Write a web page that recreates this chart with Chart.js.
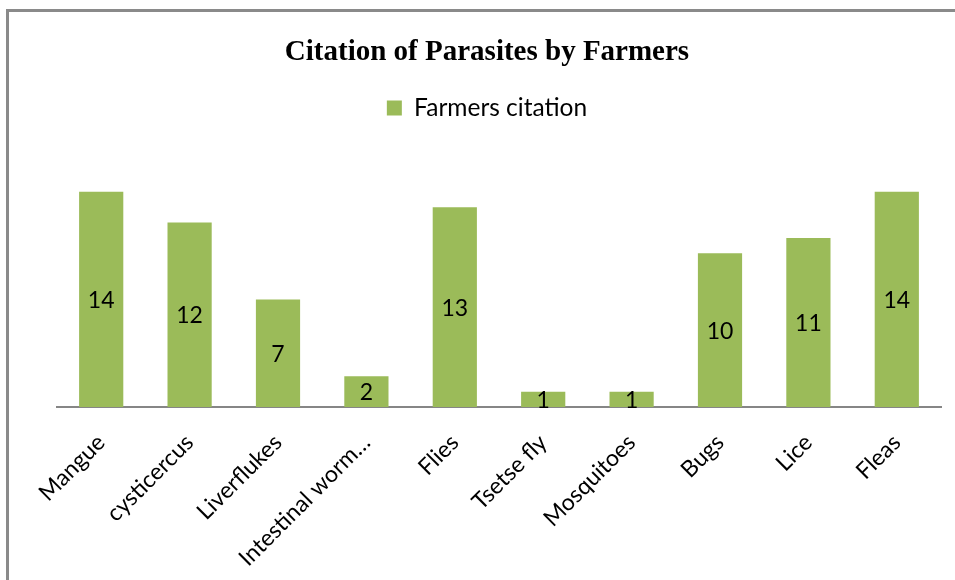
<!DOCTYPE html>
<html>
<head>
<meta charset="utf-8">
<script src="https://cdn.jsdelivr.net/npm/chart.js@4/dist/chart.umd.min.js"></script>
<style>
  html, body { margin: 0; padding: 0; background: #ffffff; }
  #wrap { width: 955px; height: 580px; position: relative; }
</style>
</head>
<body>
<div id="wrap"><canvas id="c" width="955" height="580"></canvas></div>
<script>
// Parasites cited by farmers
const categories = ['Mangue', 'cysticercus', 'Liverflukes', 'Intestinal worm\u2026', 'Flies', 'Tsetse fly', 'Mosquitoes', 'Bugs', 'Lice', 'Fleas'];
const citations = [14, 12, 7, 2, 13, 1, 1, 10, 11, 14];
const seriesName = 'Farmers citation';
const chartTitle = 'Citation of Parasites by Farmers';

const labelFont = 'Lato, "Open Sans", sans-serif';

// Value labels centred inside each bar
const barValues = {
  id: 'barValues',
  afterDatasetsDraw(chart) {
    const ctx = chart.ctx;
    const meta = chart.getDatasetMeta(0);
    ctx.save();
    ctx.font = '23px ' + labelFont;
    ctx.fillStyle = '#000000';
    ctx.textAlign = 'center';
    ctx.textBaseline = 'middle';
    meta.data.forEach((bar, i) => {
      const y = (bar.y + bar.base) / 2;
      ctx.fillText(String(citations[i]), bar.x, y + 1);
    });
    ctx.restore();
  }
};

// Grey frame along the top and left edges
const frame = {
  id: 'frame',
  beforeDraw(chart) {
    const ctx = chart.ctx;
    ctx.save();
    ctx.strokeStyle = '#8a8a8a';
    ctx.lineWidth = 3;
    ctx.beginPath();
    ctx.moveTo(7.5, 580);
    ctx.lineTo(7.5, 10.5);
    ctx.lineTo(955, 10.5);
    ctx.stroke();
    ctx.restore();
  }
};

new Chart(document.getElementById('c'), {
  type: 'bar',
  data: {
    labels: categories,
    datasets: [{
      label: seriesName,
      data: citations,
      backgroundColor: '#9BBB59',
      borderWidth: 0,
      barPercentage: 0.5,
      categoryPercentage: 1.0
    }]
  },
  options: {
    responsive: false,
    animation: false,
    layout: { padding: { top: 35, left: 33, right: 14, bottom: 0 } },
    plugins: {
      title: {
        display: true,
        text: chartTitle,
        color: '#000000',
        font: { family: '"Liberation Serif", "Times New Roman", serif', size: 29, weight: 'bold' },
        padding: { top: 0, bottom: 16 }
      },
      legend: {
        display: true,
        position: 'top',
        labels: {
          color: '#000000',
          boxWidth: 15,
          boxHeight: 15,
          font: { family: labelFont, size: 24.5 },
          padding: 10
        }
      },
      tooltip: { enabled: false }
    },
    scales: {
      x: {
        grid: { display: false, drawTicks: false },
        border: { display: true, color: '#868686', width: 2 },
        afterFit(scale) { scale.height = 173; },
        ticks: {
          color: '#000000',
          font: { family: labelFont, size: 23 },
          minRotation: 45,
          maxRotation: 45,
          autoSkip: false,
          padding: 22
        }
      },
      y: {
        display: true,
        min: 0,
        max: 18,
        grid: { display: false, drawTicks: false },
        border: { display: false },
        ticks: { display: false },
        afterFit(scale) { scale.width = 24; }
      }
    }
  },
  plugins: [barValues, frame]
});
</script>
</body>
</html>
